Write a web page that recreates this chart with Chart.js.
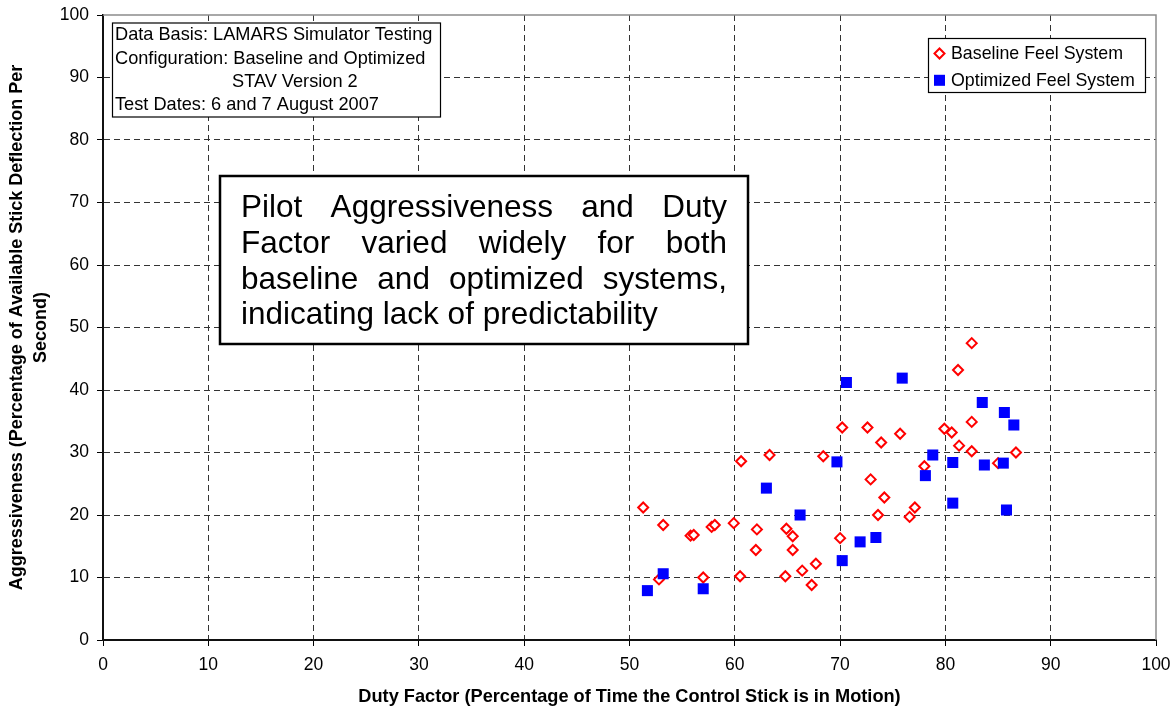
<!DOCTYPE html>
<html>
<head>
<meta charset="utf-8">
<title>Aggressiveness vs Duty Factor</title>
<script src="https://cdn.jsdelivr.net/npm/chart.js@4.4.0/dist/chart.umd.min.js"></script>
<style>
  body { margin: 0; background: #fff; }
  #wrap { width: 1175px; height: 711px; }
</style>
</head>
<body>
<div id="wrap"><canvas id="chart" width="1175" height="711"></canvas></div>
<script>
// values
var seriesNames = ["Baseline Feel System", "Optimized Feel System"];

var baselineX = [51.3, 52.8, 53.2, 55.8, 56.1, 57.0, 57.8, 58.1, 59.9, 60.5,
                 60.6, 62.1, 62.0, 63.3, 64.9, 65.5, 65.5, 64.8, 66.4, 67.7,
                 67.3, 68.4, 70.0, 70.2, 72.6, 72.9, 73.9, 73.6, 74.2, 75.7,
                 76.6, 77.1, 78.0, 79.9, 80.6, 81.2, 81.3, 82.5, 82.5, 82.5,
                 85.0, 86.7];
var baselineY = [21.2, 9.7, 18.4, 16.7, 16.8, 10.0, 18.1, 18.4, 18.7, 10.2,
                 28.6, 17.7, 14.4, 29.6, 17.8, 16.6, 14.4, 10.2, 11.1, 12.2,
                 8.8, 29.4, 16.3, 34.0, 34.0, 25.7, 31.6, 20.0, 22.8, 33.0,
                 19.7, 21.2, 27.8, 33.8, 33.2, 43.2, 31.1, 47.5, 34.9, 30.2,
                 28.3, 30.0];

var optimizedX = [51.7, 53.2, 57.0, 63.0, 66.2, 69.7, 70.2, 70.6, 71.9, 73.4,
                  75.9, 78.1, 78.8, 80.7, 80.7, 83.5, 83.7, 85.5, 85.6, 86.5,
                  85.8];
var optimizedY = [7.9, 10.6, 8.2, 24.3, 20.0, 28.5, 12.7, 41.2, 15.7, 16.4,
                  41.9, 26.3, 29.6, 28.4, 21.9, 38.0, 28.0, 28.3, 36.4, 34.4,
                  20.8];

var xTitle = "Duty Factor (Percentage of Time the Control Stick is in Motion)";
var yTitle = ["Aggressiveness (Percentage of Available Stick Deflection Per", "Second)"];

var infoLines = ["Data Basis: LAMARS Simulator Testing",
                 "Configuration: Baseline and Optimized",
                 "STAV Version 2",
                 "Test Dates: 6 and 7 August 2007"];

var noteLines = ["Pilot Aggressiveness and Duty",
                 "Factor varied widely for both",
                 "baseline and optimized systems,",
                 "indicating lack of predictability"];

var FONT = "'Liberation Sans', Arial, sans-serif";

function toPoints(xs, ys) {
  var out = [];
  xs.forEach(function(x, i) { out.push({x: x, y: ys[i]}); });
  return out;
}

function gridColor(c) {
  if (c.tick && (c.tick.value === 0 || c.tick.value === 100)) return 'rgba(0,0,0,0)';
  return '#333';
}

// justified line of words between x0 and x1
function drawJustified(ctx, line, x0, x1, y) {
  var words = line.split(' ');
  var total = 0;
  words.forEach(function(w) { total += ctx.measureText(w).width; });
  var gap = (x1 - x0 - total) / (words.length - 1);
  var x = x0;
  words.forEach(function(w) {
    ctx.fillText(w, x, y);
    x += ctx.measureText(w).width + gap;
  });
}

var boxesPlugin = {
  id: 'boxes',
  beforeDatasetsDraw: function(chart) {
    var ctx = chart.ctx, a = chart.chartArea;
    // grey frame on top and right of plot area
    ctx.save();
    ctx.strokeStyle = '#8c8c8c';
    ctx.lineWidth = 1.5;
    ctx.beginPath();
    ctx.moveTo(a.left, a.top);
    ctx.lineTo(a.right, a.top);
    ctx.lineTo(a.right, a.bottom);
    ctx.stroke();
    ctx.restore();
  },
  afterDraw: function(chart) {
    var ctx = chart.ctx;
    ctx.save();

    // data basis box
    ctx.fillStyle = '#fff';
    ctx.fillRect(112, 23, 329, 94);
    ctx.strokeStyle = '#000';
    ctx.lineWidth = 1.2;
    ctx.strokeRect(112.5, 23, 328, 94);
    ctx.fillStyle = '#000';
    ctx.font = '18.2px ' + FONT;
    ctx.textBaseline = 'alphabetic';
    ctx.textAlign = 'left';
    ctx.fillText(infoLines[0], 115, 40);
    ctx.fillText(infoLines[1], 115, 63.5);
    ctx.fillText(infoLines[2], 232, 87);
    ctx.fillText(infoLines[3], 115, 110);

    // annotation box
    ctx.fillStyle = '#fff';
    ctx.fillRect(220, 176, 528, 168);
    ctx.lineWidth = 2.5;
    ctx.strokeStyle = '#000';
    ctx.strokeRect(220, 176, 528, 168);
    ctx.fillStyle = '#000';
    ctx.font = '31.5px ' + FONT;
    var base = [217, 253, 288.5, 324];
    for (var i = 0; i < 3; i++) drawJustified(ctx, noteLines[i], 241, 727, base[i]);
    ctx.fillText(noteLines[3], 241, base[3]);

    // legend box
    ctx.fillStyle = '#fff';
    ctx.fillRect(928, 38, 218, 54);
    ctx.lineWidth = 1.2;
    ctx.strokeRect(928.5, 38.5, 217, 54);
    var sets = chart.data.datasets;
    var rows = [53.5, 80.3];
    sets.forEach(function(ds, k) {
      var cy = rows[k];
      ctx.save();
      ctx.lineWidth = ds.borderWidth;
      ctx.strokeStyle = ds.borderColor;
      ctx.fillStyle = ds.backgroundColor;
      Chart.helpers.drawPoint(ctx, {pointStyle: ds.pointStyle, radius: ds.pointRadius, borderWidth: ds.borderWidth, rotation: 0}, 939.5, cy);
      ctx.restore();
      ctx.fillStyle = '#000';
      ctx.font = '17.8px ' + FONT;
      ctx.textBaseline = 'middle';
      ctx.fillText(seriesNames[k], 951, cy + 1);
    });
    ctx.restore();
  }
};

var chart = new Chart(document.getElementById('chart'), {
  type: 'scatter',
  data: {
    datasets: [
      {
        label: seriesNames[0],
        data: toPoints(baselineX, baselineY),
        pointStyle: 'rectRot',
        pointRadius: 5,
        borderWidth: 2,
        borderColor: '#ff0000',
        backgroundColor: '#ffffff',
        order: 1
      },
      {
        label: seriesNames[1],
        data: toPoints(optimizedX, optimizedY),
        pointStyle: 'rect',
        pointRadius: 7.8,
        borderWidth: 0,
        borderColor: '#0000ff',
        backgroundColor: '#0000ff',
        order: 0
      }
    ]
  },
  options: {
    responsive: false,
    animation: false,
    events: [],
    layout: { padding: { left: 0, top: 15, right: 19, bottom: 0 } },
    plugins: {
      legend: { display: false },
      tooltip: { enabled: false }
    },
    scales: {
      x: {
        type: 'linear',
        min: 0, max: 100,
        afterFit: function(s) { s.height = 71; s.paddingLeft = 0; s.paddingRight = 0; },
        ticks: { stepSize: 10, color: '#000', padding: 9, maxRotation: 0,
                 font: { family: FONT, size: 17.5 } },
        grid: { color: gridColor, tickColor: '#000', tickLength: 6, lineWidth: 1 },
        border: { display: true, color: '#111', width: 2, dash: [6, 4] },
        title: { display: true, text: xTitle, color: '#000', padding: { top: 0, bottom: 3 },
                 font: { family: FONT, size: 18.2, weight: 'bold', lineHeight: 1.2 } }
      },
      y: {
        type: 'linear',
        min: 0, max: 100,
        afterFit: function(s) { s.width = 103; s.paddingTop = 0; s.paddingBottom = 0; },
        ticks: { stepSize: 10, color: '#000', padding: 8,
                 font: { family: FONT, size: 17.5 } },
        grid: { color: gridColor, tickColor: '#000', tickLength: 6, lineWidth: 1 },
        border: { display: true, color: '#111', width: 2, dash: [6, 4] },
        title: { display: true, text: yTitle, color: '#000', padding: { top: 5, bottom: 0 },
                 font: { family: FONT, size: 18, weight: 'bold', lineHeight: 1.35 } }
      }
    }
  },
  plugins: [boxesPlugin]
});
</script>
</body>
</html>
